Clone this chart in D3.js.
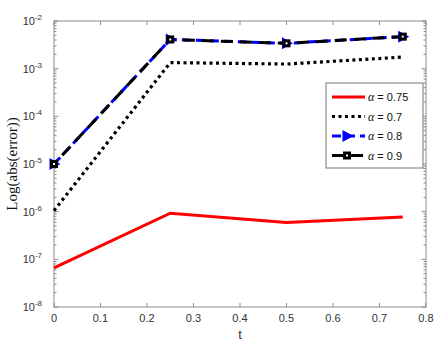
<!DOCTYPE html>
<html>
<head>
<meta charset="utf-8">
<script src="https://cdn.jsdelivr.net/npm/d3@7"></script>
<style>
  body { margin: 0; background: #fff; }
  svg { display: block; }
</style>
</head>
<body>
<svg id="chart" width="448" height="347"></svg>
<script>
// data
const tValues = [0, 0.25, 0.5, 0.75];
const err075 = [6.6e-8, 9.3e-7, 5.9e-7, 7.7e-7];
const err07 = [1.05e-6, 1.34e-3, 1.25e-3, 1.75e-3];
const err08 = [1.0e-5, 4.1e-3, 3.4e-3, 4.7e-3];
const err09 = [1.0e-5, 4.1e-3, 3.4e-3, 4.7e-3];
const xTicks = [0, 0.1, 0.2, 0.3, 0.4, 0.5, 0.6, 0.7, 0.8];
const yExponents = [-2, -3, -4, -5, -6, -7, -8];

const series = [
  { label: '0.75', values: err075, color: '#ff0000', width: 3, dash: null, marker: null },
  { label: '0.7', values: err07, color: '#000', width: 3.2, dash: '3,3.5', marker: null },
  { label: '0.8', values: err08, color: '#0000ff', width: 3, dash: '9,5', marker: 'tri' },
  { label: '0.9', values: err09, color: '#000', width: 3, dash: '12,7', marker: 'sq', offset: 7 }
];

const margin = { left: 54, right: 22, top: 21, bottom: 40 };
const width = 448, height = 347;
const svg = d3.select('#chart');

const x = d3.scaleLinear().domain([0, 0.8]).range([margin.left, width - margin.right]);
const y = d3.scaleLog().domain([1e-8, 1e-2]).range([height - margin.bottom, margin.top]);

const axisColor = '#8c8c8c';
const textColor = '#333';

// plot box
svg.append('rect')
  .attr('x', x(0)).attr('y', y(1e-2))
  .attr('width', x(0.8) - x(0)).attr('height', y(1e-8) - y(1e-2))
  .attr('fill', 'none').attr('stroke', axisColor).attr('stroke-width', 1);

// x ticks, bottom and top, pointing inward
const xt = svg.append('g');
xTicks.forEach(v => {
  xt.append('line').attr('x1', x(v)).attr('x2', x(v))
    .attr('y1', y(1e-8)).attr('y2', y(1e-8) - 4).attr('stroke', axisColor);
  xt.append('line').attr('x1', x(v)).attr('x2', x(v))
    .attr('y1', y(1e-2)).attr('y2', y(1e-2) + 4).attr('stroke', axisColor);
  xt.append('text').attr('x', x(v)).attr('y', y(1e-8) + 15)
    .attr('text-anchor', 'middle')
    .style('font', '11px "Liberation Sans", Arial, sans-serif')
    .attr('fill', textColor)
    .text(v === 0 ? '0' : d3.format('.1f')(v));
});

// y ticks, major and minor
const yt = svg.append('g');
for (let e = -8; e < -2; e++) {
  for (let m = 2; m <= 9; m++) {
    const yy = y(m * Math.pow(10, e));
    yt.append('line').attr('x1', x(0)).attr('x2', x(0) + 2.5).attr('y1', yy).attr('y2', yy).attr('stroke', axisColor);
    yt.append('line').attr('x1', x(0.8)).attr('x2', x(0.8) - 2.5).attr('y1', yy).attr('y2', yy).attr('stroke', axisColor);
  }
}
yExponents.forEach(e => {
  const yy = y(Math.pow(10, e));
  yt.append('line').attr('x1', x(0)).attr('x2', x(0) + 4.5).attr('y1', yy).attr('y2', yy).attr('stroke', axisColor);
  yt.append('line').attr('x1', x(0.8)).attr('x2', x(0.8) - 4.5).attr('y1', yy).attr('y2', yy).attr('stroke', axisColor);
  const t = yt.append('text').attr('x', x(0) - 12).attr('y', yy + 4)
    .attr('text-anchor', 'end')
    .style('font', '11px "Liberation Sans", Arial, sans-serif')
    .attr('fill', textColor);
  t.append('tspan').text('10');
  t.append('tspan').attr('dy', -5).style('font-size', '8px').text(String(e));
});

// axis labels
svg.append('text')
  .attr('x', x(0.4)).attr('y', height - 8)
  .attr('text-anchor', 'middle')
  .style('font', '13px "Liberation Sans", Arial, sans-serif')
  .attr('fill', textColor).text('t');

svg.append('text')
  .attr('transform', `translate(17,${(y(1e-2) + y(1e-8)) / 2}) rotate(-90)`)
  .attr('text-anchor', 'middle')
  .style('font', '15px "Liberation Serif", "Times New Roman", serif')
  .attr('fill', '#111').text('Log(abs(error))');

// lines
const line = d3.line().x((d, i) => x(tValues[i])).y(d => y(d));
const plot = svg.append('g');

series.forEach(s => {
  const p = plot.append('path')
    .datum(s.values)
    .attr('d', line)
    .attr('fill', 'none')
    .attr('stroke', s.color)
    .attr('stroke-width', s.width)
    .attr('stroke-linejoin', 'miter');
  if (s.dash) p.attr('stroke-dasharray', s.dash);
  if (s.offset) p.attr('stroke-dashoffset', s.offset);
});

function drawMarker(g, kind, cx, cy, color) {
  if (kind === 'tri') {
    g.append('path')
      .attr('d', `M${cx - 4.5},${cy - 6}L${cx + 6.5},${cy}L${cx - 4.5},${cy + 6}Z`)
      .attr('fill', color);
  } else if (kind === 'sq') {
    g.append('rect').attr('x', cx - 4).attr('y', cy - 4).attr('width', 8).attr('height', 8)
      .attr('fill', color);
    g.append('rect').attr('x', cx - 1).attr('y', cy - 1).attr('width', 2).attr('height', 2)
      .attr('fill', '#fff');
  }
}

series.forEach(s => {
  if (!s.marker) return;
  s.values.forEach((v, i) => drawMarker(plot, s.marker, x(tValues[i]), y(v), s.color));
});

// legend
const lg = svg.append('g');
lg.append('rect').attr('x', 326).attr('y', 83).attr('width', 97).attr('height', 85)
  .attr('fill', '#fff').attr('stroke', '#777').attr('stroke-width', 1);

series.forEach((s, i) => {
  const ly = 97 + i * 19.5;
  const l = lg.append('line').attr('x1', 332).attr('x2', 365).attr('y1', ly).attr('y2', ly)
    .attr('stroke', s.color).attr('stroke-width', s.width);
  if (s.dash) l.attr('stroke-dasharray', s.dash);
  if (s.marker) drawMarker(lg, s.marker, 347, ly, s.color);
  const t = lg.append('text').attr('x', 368).attr('y', ly + 4)
    .style('font', '11px "Liberation Sans", Arial, sans-serif')
    .attr('fill', '#111');
  t.append('tspan').style('font', 'italic 12px "Liberation Serif", serif').text('α');
  t.append('tspan').text(' = ' + s.label);
});
</script>
</body>
</html>
